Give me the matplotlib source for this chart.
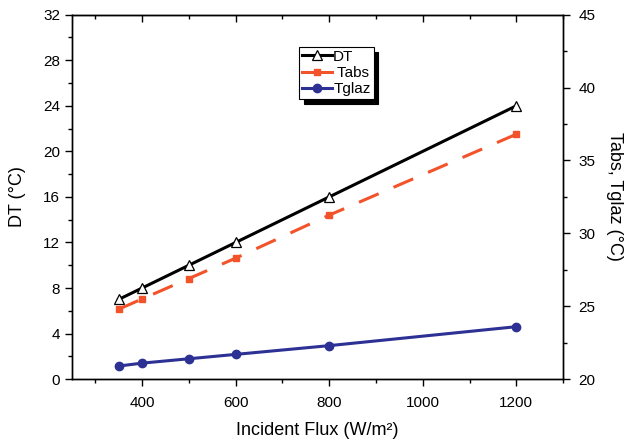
import matplotlib
matplotlib.use("Agg")
import matplotlib.pyplot as plt
from matplotlib.lines import Line2D
from matplotlib.ticker import MultipleLocator

plt.rcParams['font.family'] = ['Liberation Sans', 'DejaVu Sans']

# data
flux = [350, 400, 500, 600, 800, 1200]
dt = [7.0, 8.0, 10.0, 12.0, 16.0, 24.0]
tabs = [24.8, 25.5, 26.9, 28.3, 31.25, 36.8]
tglaz = [20.9, 21.1, 21.4, 21.7, 22.3, 23.6]

c_tabs = '#F2532A'
c_tglaz = '#2D3193'

fig = plt.figure(figsize=(6.25, 4.44), dpi=100)
ax = fig.add_axes([0.115, 0.146, 0.786, 0.821])
ax2 = ax.twinx()

ax.plot(flux, dt, color='black', lw=2.2, marker='^', ms=6.5,
        mfc='white', mec='black', mew=0.9, zorder=5)
ax2.plot(flux, tabs, color=c_tabs, lw=2.2, dashes=(7, 5.3), marker='s', ms=5,
         mfc=c_tabs, mec=c_tabs)
ax2.plot(flux, tglaz, color=c_tglaz, lw=2.2, marker='o', ms=6,
         mfc=c_tglaz, mec=c_tglaz)

ax.set_xlim(250, 1300)
ax.set_ylim(0, 32)
ax2.set_ylim(20, 45)
ax.xaxis.set_major_locator(MultipleLocator(200))
ax.xaxis.set_minor_locator(MultipleLocator(100))
ax.yaxis.set_major_locator(MultipleLocator(4))
ax.yaxis.set_minor_locator(MultipleLocator(2))
ax2.yaxis.set_major_locator(MultipleLocator(5))
ax2.yaxis.set_minor_locator(MultipleLocator(2.5))

for a in (ax, ax2):
    a.tick_params(which='major', direction='out', length=5, width=1, labelsize=11)
    a.tick_params(which='minor', direction='out', length=3, width=1)
    for s in a.spines.values():
        s.set_linewidth(1)
ax.tick_params(axis='x', which='major', pad=7)
ax2.tick_params(axis='y', which='major', pad=6)

# top ticks point inward
top = ax.secondary_xaxis('top')
top.xaxis.set_major_locator(MultipleLocator(200))
top.xaxis.set_minor_locator(MultipleLocator(100))
top.tick_params(which='major', direction='in', length=5, width=1, labeltop=False)
top.tick_params(which='minor', direction='in', length=3, width=1)

ax.set_xlabel('Incident Flux (W/m²)', fontsize=13, labelpad=9)
ax.set_ylabel('DT (°C)', fontsize=13, labelpad=12)
ax2.set_ylabel('Tabs, Tglaz (°C)', fontsize=13, rotation=270, labelpad=20)

handles = [
    Line2D([], [], color='black', lw=2.2, marker='^', ms=6.5, mfc='white', mec='black', mew=0.9),
    Line2D([], [], color=c_tabs, lw=2.2, marker='s', ms=5, mfc=c_tabs, mec=c_tabs),
    Line2D([], [], color=c_tglaz, lw=2.2, marker='o', ms=6, mfc=c_tglaz, mec=c_tglaz),
]
leg = ax2.legend(handles, ['DT', ' Tabs', 'Tglaz'], loc='upper left',
                 bbox_to_anchor=(0.462, 0.912), fontsize=11, frameon=True,
                 fancybox=False, edgecolor='black', framealpha=1,
                 shadow={'color': 'black', 'alpha': 1, 'ox': 3.5, 'oy': -3.5},
                 handlelength=2.0, handletextpad=0.05, labelspacing=0.15,
                 borderpad=0.2, borderaxespad=0)
leg.get_frame().set_linewidth(0.8)

fig.savefig('out.png', dpi=100)
